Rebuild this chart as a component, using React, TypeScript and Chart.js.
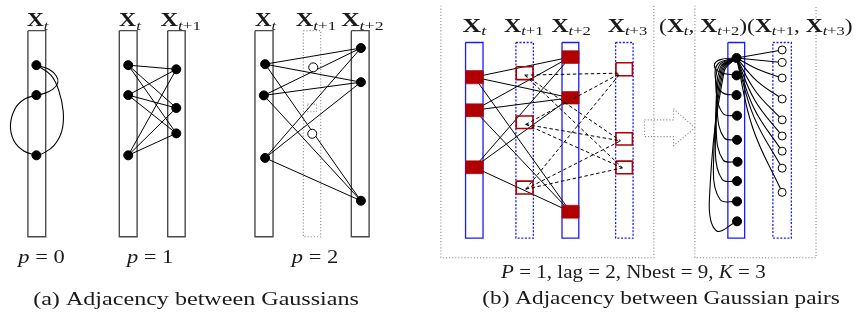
import React, { useEffect, useRef } from "react";
import { Chart, registerables } from "chart.js";

Chart.register(...registerables);

type P = [number, number];
type Span = [number, number];

const W = 862;
const H = 329;

// ---------------- panel (a): adjacency between Gaussians ----------------
const aColumnY: Span = [26, 239.3];
const aSolidColumnsX: Span[] = [[22.7, 40.7], [115.3, 133.3], [164.3, 182], [252.7, 271], [350.3, 368.3]];
const aDottedColumnX: Span = [301.7, 319.3];
const aSmallBox: [Span, Span] = [[306, 315], [102, 110]];

const p0Nodes: P[] = [[31.3, 61.7], [31.3, 92.7], [31.3, 155]];
const p0Loops: P[][] = [
  [[31.3, 61.7], [44, 66], [51.5, 73], [53, 80], [48, 86.5], [39, 91], [31.3, 92.7]],
  [[31.3, 61.7], [46, 72], [54, 88], [58.5, 110], [57, 130], [49, 145], [38, 153], [31.3, 155]],
  [[31.3, 92.7], [19, 97], [9.5, 107], [5, 124], [8.5, 140], [18.5, 150.5], [31.3, 155]],
];
const p1LeftNodes: P[] = [[124.3, 61.7], [124.3, 92.7], [124.3, 155]];
const p1RightNodes: P[] = [[173, 66], [173, 106], [173, 132.3]];
const p2LeftNodes: P[] = [[263, 60.7], [261.7, 93], [263, 157.7]];
const p2RightNodes: P[] = [[360, 44], [360, 79.3], [360, 202]];
const p2OpenNodes: P[] = [[311.7, 64], [310.7, 132.7]];

// ---------------- panel (b): adjacency between Gaussian pairs ----------------
const bColumnY: Span = [38.3, 240.7];
const bSolidColumnsX: Span[] = [[466, 483.7], [563.7, 580.7], [731.7, 748.7]];
const bDottedColumnsX: Span[] = [[517, 534.7], [618, 635.7], [777.3, 796]];
const bBoxesX: Span[] = [[441, 656.7], [698.3, 821]];
const bBoxBottom = 261;
const arrowOutline: P[] = [
  [647.3, 118.3], [676.7, 118.3], [676.7, 106.7], [698.3, 126.7],
  [676.7, 145], [676.7, 135.7], [647.3, 135.7], [647.3, 118.3],
];

const tFilledX: Span = [466, 483.7];
const tFilledY: Span[] = [[67.3, 81], [101.7, 115], [160.7, 174]];
const t2FilledX: Span = [563.7, 580.7];
const t2FilledY: Span[] = [[46.7, 60], [89, 102], [206.7, 220]];
const t1OpenX: Span = [517.3, 534.3];
const t1OpenY: Span[] = [[63.3, 76.7], [114.3, 127.3], [181.7, 195]];
const t3OpenX: Span = [618.3, 635];
const t3OpenY: Span[] = [[59.3, 72.7], [131.7, 144.3], [161, 174]];
const t1Tips: P[] = [[526, 72], [527, 123], [527, 190]];
const t3Tips: P[] = [[623, 70], [623, 140], [625, 168]];

const pairSource: P = [740.5, 54.3];
const pairNodes: P[] = [
  [740.5, 72.3], [740.5, 92.7], [741, 114], [741, 139], [741.5, 161.7],
  [741, 181.7], [741, 202.7], [741, 223.3],
];
const pairOpen: P[] = [
  [786.7, 46], [786.7, 59], [786.7, 75], [786.7, 96.7], [786.7, 118.3],
  [786.7, 135], [786.7, 150.7], [786.7, 168.3], [786.7, 193.3],
];
const pairOpenVia: (P | null)[] = [
  null, null, [762, 66], [761, 78], [760, 89], [759, 98], [758, 106], [758, 115], [757, 127],
];
const pairLoopVia: P[][] = [
  [[724, 56], [718, 62], [724, 69]],
  [[722, 60], [719, 75], [726, 90]],
  [[723, 62], [720, 90], [727, 112]],
  [[724, 64], [721, 110], [728, 137]],
  [[725, 65], [720, 130], [727, 160]],
  [[726, 66], [719, 150], [726, 180]],
  [[727, 67], [717, 170], [724, 201]],
  [[728, 68], [713, 200], [720, 233]],
];

// ---------------- texts ----------------
type Run = { s: string; st: "r" | "i" | "b"; sub?: boolean };
type Label = { runs: Run[]; x: Span; base: number; size: number };
const r = (s: string): Run => ({ s, st: "r" });
const it = (s: string): Run => ({ s, st: "i" });
const bd = (s: string): Run => ({ s, st: "b" });
const si = (s: string): Run => ({ s, st: "i", sub: true });
const sr = (s: string): Run => ({ s, st: "r", sub: true });
const X = (k: string): Run[] => (k ? [bd("X"), si("t"), sr(k)] : [bd("X"), si("t")]);

const labels: Label[] = [
  { runs: X(""), x: [21.7, 43.3], base: 21.7, size: 18 },
  { runs: X(""), x: [115, 137], base: 21.7, size: 18 },
  { runs: X("+1"), x: [157, 198], base: 21.7, size: 18 },
  { runs: X(""), x: [252.7, 274], base: 21.7, size: 18 },
  { runs: X("+1"), x: [294, 335], base: 21.7, size: 18 },
  { runs: X("+2"), x: [340, 383], base: 21.7, size: 18 },
  { runs: [it("p"), r(" = 0")], x: [13, 60], base: 266, size: 19 },
  { runs: [it("p"), r(" = 1")], x: [123, 170], base: 266, size: 19 },
  { runs: [it("p"), r(" = 2")], x: [290, 337], base: 266, size: 19 },
  { runs: X(""), x: [463, 487], base: 27, size: 18 },
  { runs: X("+1"), x: [505, 545], base: 27, size: 18 },
  { runs: X("+2"), x: [553, 593], base: 27, size: 18 },
  { runs: X("+3"), x: [610, 650], base: 27, size: 18 },
  {
    runs: [r("("), ...X(""), r(", "), ...X("+2"), r(")"), r("("), ...X("+1"), r(", "), ...X("+3"), r(")")],
    x: [662, 858], base: 27, size: 18,
  },
  { runs: [it("P"), r(" = 1, lag = 2, Nbest = 9, "), it("K"), r(" = 3")], x: [502, 770], base: 282.3, size: 19 },
  { runs: [r("(a) Adjacency between Gaussians")], x: [28, 358], base: 309.5, size: 19 },
  { runs: [r("(b) Adjacency between Gaussian pairs")], x: [483, 845], base: 309, size: 19 },
];

const FAMILY = '"Liberation Serif", "DejaVu Serif", serif';
const RED = "#b00000";
const BLUE = "#1a1aff";

const textPlugin = {
  id: "diagramText",
  afterDatasetsDraw(chart: any) {
    const ctx: CanvasRenderingContext2D = chart.ctx;
    const xs = chart.scales.x;
    const ys = chart.scales.y;
    ctx.save();
    ctx.fillStyle = "#1a1a1a";
    ctx.textBaseline = "alphabetic";
    ctx.textAlign = "left";
    for (const lb of labels) {
      const font = (ru: Run) => {
        const sz = ru.sub ? lb.size * 0.7 : lb.size;
        return `${ru.st === "i" ? "italic " : ""}${ru.st === "b" ? "bold " : ""}${sz}px ${FAMILY}`;
      };
      const widths = lb.runs.map((ru) => {
        ctx.font = font(ru);
        return ctx.measureText(ru.s).width;
      });
      const total = widths.reduce((a, b) => a + b, 0);
      const px0 = xs.getPixelForValue(lb.x[0]);
      const px1 = xs.getPixelForValue(lb.x[1]);
      const py = ys.getPixelForValue(lb.base);
      const k = (px1 - px0) / total;
      ctx.save();
      ctx.translate(px0, py);
      ctx.scale(k, 1);
      let cx = 0;
      lb.runs.forEach((ru, i) => {
        ctx.font = font(ru);
        ctx.fillText(ru.s, cx, ru.sub ? lb.size * 0.2 : 0);
        cx += widths[i];
      });
      ctx.restore();
    }
    ctx.restore();
  },
};

function buildDatasets() {
  const ds: any[] = [];
  const toXY = (pts: P[]) => pts.map(([x, y]) => ({ x, y }));
  const add = (pts: P[], o: any = {}) =>
    ds.push({
      data: toXY(pts), showLine: true, pointRadius: 0, borderColor: "#000",
      borderWidth: 1, fill: false, tension: 0, borderJoinStyle: "miter", ...o,
    });
  const addPts = (pts: P[], o: any = {}) =>
    ds.push({
      data: toXY(pts), showLine: false, pointRadius: 4.5, pointStyle: "circle",
      pointBackgroundColor: "#000", pointBorderColor: "#000", pointBorderWidth: 1, ...o,
    });
  const rect = (x: Span, y: Span): P[] => [[x[0], y[0]], [x[1], y[0]], [x[1], y[1]], [x[0], y[1]], [x[0], y[0]]];
  const mid = (s: Span) => (s[0] + s[1]) / 2;
  const grayDot = { borderColor: "#8a8a8a", borderWidth: 1.1, borderDash: [1.1, 2] };

  // panel (a)
  aSolidColumnsX.forEach((x) => add(rect(x, aColumnY), { borderColor: "#4a4a4a", borderWidth: 1.4 }));
  add(rect(aDottedColumnX, aColumnY), grayDot);
  add(rect(aSmallBox[0], aSmallBox[1]), grayDot);
  p0Loops.forEach((l) => add(l, { tension: 0.4, borderWidth: 1.1 }));
  p1LeftNodes.forEach((a) => p1RightNodes.forEach((b) => add([a, b])));
  p2LeftNodes.forEach((a) => p2RightNodes.forEach((b) => add([a, b])));
  addPts(p0Nodes);
  addPts(p1LeftNodes);
  addPts(p1RightNodes);
  addPts(p2LeftNodes);
  addPts(p2RightNodes);
  addPts(p2OpenNodes, { pointBackgroundColor: "#fff" });

  // panel (b)
  bBoxesX.forEach((x) => add([[x[0], 0], [x[0], bBoxBottom], [x[1], bBoxBottom], [x[1], 0]], grayDot));
  add(arrowOutline, grayDot);
  bSolidColumnsX.forEach((x) => add(rect(x, bColumnY), { borderColor: BLUE, borderWidth: 1.3 }));
  bDottedColumnsX.forEach((x) => add(rect(x, bColumnY), { borderColor: BLUE, borderWidth: 1.3, borderDash: [2, 1.6] }));
  tFilledY.forEach((a) =>
    t2FilledY.forEach((b) => add([[mid(tFilledX), mid(a)], [mid(t2FilledX), mid(b)]]))
  );
  tFilledY.forEach((y) => add(rect(tFilledX, y), { fill: "shape", backgroundColor: RED, borderColor: RED, borderWidth: 0.6 }));
  t2FilledY.forEach((y) => add(rect(t2FilledX, y), { fill: "shape", backgroundColor: RED, borderColor: RED, borderWidth: 0.6 }));
  t1OpenY.forEach((y) => add(rect(t1OpenX, y), { borderColor: RED, borderWidth: 1.6 }));
  t3OpenY.forEach((y) => add(rect(t3OpenX, y), { borderColor: RED, borderWidth: 1.6 }));
  t1Tips.forEach((a) => t3Tips.forEach((b) => add([a, b], { borderDash: [3.5, 2.5] })));

  pairLoopVia.forEach((via, i) => add([pairSource, ...via, pairNodes[i]], { tension: 0.4, borderWidth: 1.1 }));
  pairOpen.forEach((o, i) => {
    const v = pairOpenVia[i];
    add(v ? [pairSource, v, o] : [pairSource, o], { tension: 0.4, borderWidth: 1.1 });
  });
  addPts([pairSource, ...pairNodes]);
  addPts(pairOpen, { pointBackgroundColor: "#fff", pointRadius: 4 });

  // first dataset is drawn on top in Chart.js, so reverse the painting order
  return ds.reverse();
}

export default function App() {
  const ref = useRef<HTMLCanvasElement | null>(null);
  useEffect(() => {
    document.body.style.margin = "0";
    document.body.style.background = "#fff";
    const canvas = ref.current!;
    const chart = new Chart(canvas, {
      type: "scatter",
      data: { datasets: buildDatasets() },
      options: {
        animation: false,
        responsive: false,
        maintainAspectRatio: false,
        devicePixelRatio: 1,
        events: [],
        layout: { padding: 0 },
        scales: {
          x: { type: "linear", min: 0, max: W, display: false },
          y: { type: "linear", min: 0, max: H, reverse: true, display: false },
        },
        plugins: {
          legend: { display: false },
          tooltip: { enabled: false },
          title: { display: false },
        },
      } as any,
      plugins: [textPlugin],
    });
    return () => chart.destroy();
  }, []);
  return (
    <div style={{ width: W, height: H, background: "#fff" }}>
      <canvas ref={ref} width={W} height={H} style={{ display: "block", width: W, height: H }} />
    </div>
  );
}
